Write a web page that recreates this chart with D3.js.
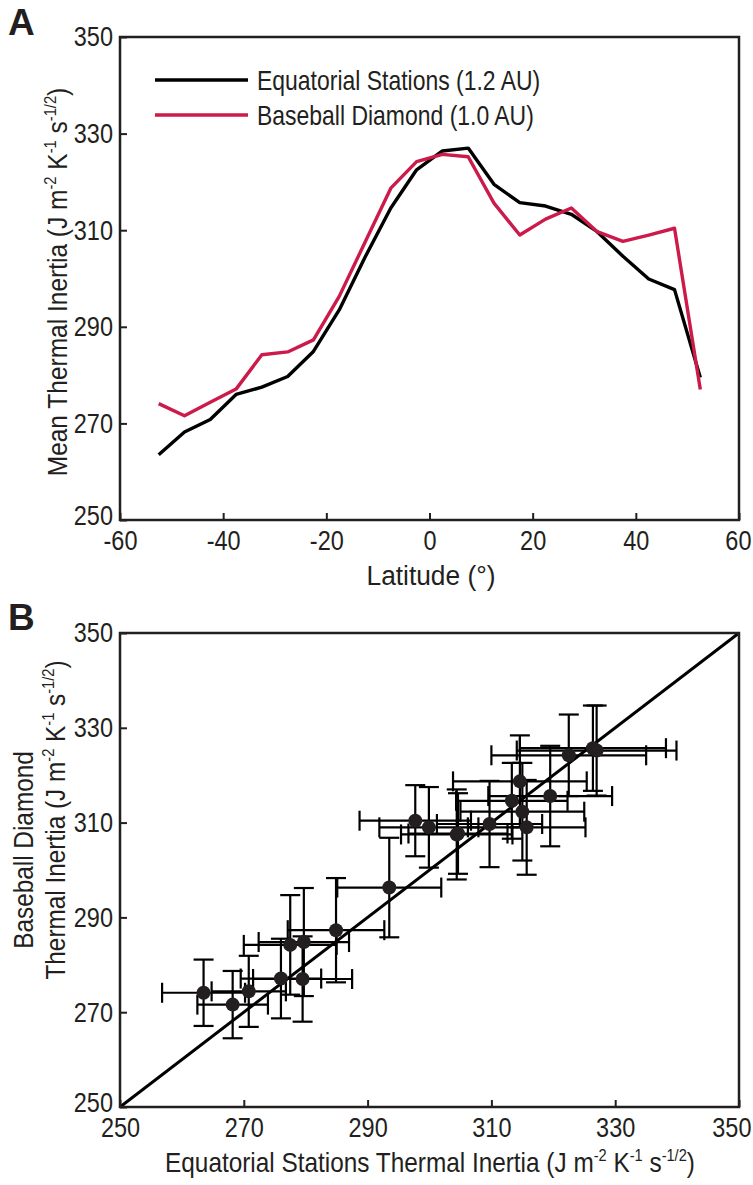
<!DOCTYPE html>
<meta charset="utf-8">
<script src="https://d3js.org/d3.v7.min.js"></script>
<style>
  body { margin: 0; background: #fff; }
  svg text { font-family: "Liberation Sans", Arial, sans-serif; fill: #231f20; }
</style>
<div id="chart"></div>
<script>
// latitude bins (deg)
var latitudes = [-52.5, -47.5, -42.5, -37.5, -32.5, -27.5, -22.5, -17.5, -12.5, -7.5, -2.5,
                 2.5, 7.5, 12.5, 17.5, 22.5, 27.5, 32.5, 37.5, 42.5, 47.5, 52.5];
// mean thermal inertia per bin
var equatorial = [263.5, 268.2, 270.8, 276.0, 277.5, 279.7, 284.9, 293.5, 304.4, 314.6, 322.5,
                  326.4, 327.0, 319.5, 315.7, 315.0, 313.3, 309.7, 304.6, 299.9, 297.7, 279.5];
var baseball = [274.1, 271.6, 274.4, 277.1, 284.2, 284.8, 287.3, 296.3, 307.5, 318.7, 324.2,
                325.7, 325.2, 315.6, 309.0, 312.3, 314.6, 309.7, 307.7, 309.0, 310.4, 277.0];
// error bar half-widths for panel B
var equatorialErr = [6.7, 5.7, 6.0, 6.5, 7.5, 7.3, 7.8, 8.4, 9.0, 10.8, 12.5,
                     11.8, 12.9, 10.0, 9.5, 10.0, 9.0, 8.5, 8.0, 8.0, 9.0, 8.0];
var baseballErr = [7.0, 7.1, 7.5, 8.4, 10.5, 11.4, 11.0, 10.5, 9.5, 9.7, 8.6,
                   9.0, 9.5, 10.6, 10.0, 10.3, 8.0, 9.1, 8.5, 8.5, 7.5, 9.0];

var latTicks = [-60, -40, -20, 0, 20, 40, 60];
var tiTicks = [250, 270, 290, 310, 330, 350];
var seriesNames = ["Equatorial Stations (1.2 AU)", "Baseball Diamond (1.0 AU)"];
var seriesColors = ["#000000", "#cc1a4a"];

var W = 753, H = 1185;
var ink = "#231f20";
var narrow = 0.84;   // horizontal squeeze to mimic a condensed face

var svg = d3.select("#chart").append("svg")
  .attr("width", W).attr("height", H);

// write a label with superscript parts: [[text, isSuper], ...]
function richText(sel, parts, size) {
  parts.forEach(function(p, i) {
    var prev = i > 0 ? parts[i - 1][1] : 0;
    var shift = 0;
    if (p[1] && !prev) shift = -size * 0.38;
    if (!p[1] && prev) shift = size * 0.38;
    sel.append("tspan")
      .attr("dy", shift)
      .style("font-size", (p[1] ? size * 0.6 : size) + "px")
      .text(p[0]);
  });
}
var unitParts = [[" (J m", 0], ["-2", 1], [" K", 0], ["-1", 1], [" s", 0], ["-1/2", 1], [")", 0]];

function drawFrame(x, y, xticks, yticks) {
  var g = svg.append("g");
  var right = x.range()[1];
  g.append("g")
    .attr("transform", "translate(0," + y.range()[0] + ")")
    .call(d3.axisBottom(x).tickValues(xticks).tickSize(-7).tickPadding(10)
      .tickFormat(function(d) { return String(d); }))
    .call(function(a) {
      a.select(".domain").remove();
      a.selectAll("line").attr("stroke", ink).attr("stroke-width", 2);
      a.selectAll("text").style("font-size", "28px").attr("fill", ink)
        .attr("transform", "scale(" + narrow + ",1)");
      // keep the last label inside the page
      a.selectAll(".tick").filter(function(d) { return d === xticks[xticks.length - 1]; })
        .select("text").attr("text-anchor", "end").attr("x", (W - 2 - right) / narrow);
    });
  g.append("g")
    .attr("transform", "translate(" + x.range()[0] + ",0)")
    .call(d3.axisLeft(y).tickValues(yticks).tickSize(-7).tickPadding(7))
    .call(function(a) {
      a.select(".domain").remove();
      a.selectAll("line").attr("stroke", ink).attr("stroke-width", 2);
      a.selectAll("text").style("font-size", "28px").attr("fill", ink)
        .attr("x", -7 / narrow)
        .attr("transform", "scale(" + narrow + ",1)");
      a.selectAll(".tick").filter(function(d) { return d === yticks[0]; })
        .select("text").attr("y", -4);
    });
  g.append("rect")
    .attr("x", x.range()[0]).attr("y", y.range()[1])
    .attr("width", x.range()[1] - x.range()[0])
    .attr("height", y.range()[0] - y.range()[1])
    .attr("fill", "none").attr("stroke", ink).attr("stroke-width", 2.5);
  return g;
}

// ---------- panel A ----------
var xA = d3.scaleLinear().domain([-60, 60]).range([120, 739]);
var yA = d3.scaleLinear().domain([250, 350]).range([520, 37]);

var lineA = d3.line()
  .x(function(d) { return xA(d[0]); })
  .y(function(d) { return yA(d[1]); });

[equatorial, baseball].forEach(function(s, i) {
  svg.append("path")
    .datum(latitudes.map(function(l, j) { return [l, s[j]]; }))
    .attr("d", lineA)
    .attr("fill", "none")
    .attr("stroke", seriesColors[i])
    .attr("stroke-width", 3.4)
    .attr("stroke-linejoin", "round");
});

drawFrame(xA, yA, latTicks, tiTicks);

// legend
seriesNames.forEach(function(name, i) {
  var ly = 80 + i * 35;
  svg.append("line")
    .attr("x1", 155).attr("x2", 248).attr("y1", ly).attr("y2", ly)
    .attr("stroke", seriesColors[i]).attr("stroke-width", 3.4);
  svg.append("text")
    .attr("transform", "translate(257," + (ly + 10) + ") scale(0.82,1)")
    .style("font-size", "28px")
    .text(name);
});

svg.append("text")
  .attr("transform", "translate(431,585) scale(0.94,1)")
  .attr("text-anchor", "middle")
  .style("font-size", "28px")
  .text("Latitude (°)");

var yTitleA = svg.append("text")
  .attr("transform", "translate(67,282) rotate(-90) scale(0.875,1)")
  .attr("text-anchor", "middle")
  .style("font-size", "28px");
richText(yTitleA, [["Mean Thermal Inertia", 0]].concat(unitParts), 28);

svg.append("text")
  .attr("x", 8).attr("y", 35)
  .style("font-weight", "bold").style("font-size", "37px")
  .text("A");

// ---------- panel B ----------
var xB = d3.scaleLinear().domain([250, 350]).range([120, 739]);
var yB = d3.scaleLinear().domain([250, 350]).range([1107, 633]);

// 1:1 line
svg.append("line")
  .attr("x1", xB(250)).attr("y1", yB(250))
  .attr("x2", xB(350)).attr("y2", yB(350))
  .attr("stroke", "#000").attr("stroke-width", 3);

var pts = latitudes.map(function(l, i) {
  return { x: equatorial[i], y: baseball[i], ex: equatorialErr[i], ey: baseballErr[i] };
});

var cap = 10;
var eb = svg.append("g").attr("stroke", "#000").attr("stroke-width", 2.2);
pts.forEach(function(p) {
  var cx = xB(p.x), cy = yB(p.y);
  var x0 = xB(p.x - p.ex), x1 = xB(p.x + p.ex);
  var y0 = yB(p.y - p.ey), y1 = yB(p.y + p.ey);
  eb.append("line").attr("x1", x0).attr("x2", x1).attr("y1", cy).attr("y2", cy);
  eb.append("line").attr("x1", x0).attr("x2", x0).attr("y1", cy - cap).attr("y2", cy + cap);
  eb.append("line").attr("x1", x1).attr("x2", x1).attr("y1", cy - cap).attr("y2", cy + cap);
  eb.append("line").attr("x1", cx).attr("x2", cx).attr("y1", y0).attr("y2", y1);
  eb.append("line").attr("x1", cx - cap).attr("x2", cx + cap).attr("y1", y0).attr("y2", y0);
  eb.append("line").attr("x1", cx - cap).attr("x2", cx + cap).attr("y1", y1).attr("y2", y1);
});

svg.append("g").selectAll("circle")
  .data(pts)
  .enter().append("circle")
  .attr("cx", function(d) { return xB(d.x); })
  .attr("cy", function(d) { return yB(d.y); })
  .attr("r", 7)
  .attr("fill", ink);

drawFrame(xB, yB, tiTicks, tiTicks);

var xTitleB = svg.append("text")
  .attr("transform", "translate(430,1172) scale(0.87,1)")
  .attr("text-anchor", "middle")
  .style("font-size", "28px");
richText(xTitleB, [["Equatorial Stations Thermal Inertia", 0]].concat(unitParts), 28);

svg.append("text")
  .attr("transform", "translate(33,850) rotate(-90) scale(0.87,1)")
  .attr("text-anchor", "middle")
  .style("font-size", "28px")
  .text("Baseball Diamond");
var yTitleB = svg.append("text")
  .attr("transform", "translate(65,820) rotate(-90) scale(0.87,1)")
  .attr("text-anchor", "middle")
  .style("font-size", "28px");
richText(yTitleB, [["Thermal Inertia", 0]].concat(unitParts), 28);

svg.append("text")
  .attr("x", 8).attr("y", 630)
  .style("font-weight", "bold").style("font-size", "37px")
  .text("B");
</script>
